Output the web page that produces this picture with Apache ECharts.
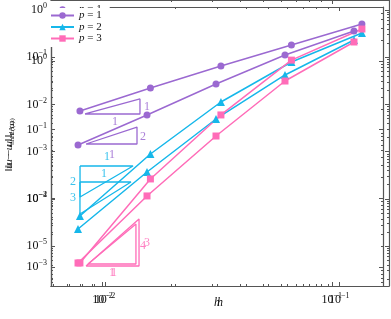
<!DOCTYPE html>
<html><head><meta charset="utf-8">
<script src="https://cdn.jsdelivr.net/npm/echarts@6/dist/echarts.min.js"></script>
<style>html,body{margin:0;padding:0;background:#fff}#c{width:391px;height:319px}</style>
</head><body><div id="c"></div>
<script>
// mesh sizes
const hValues = [0.0078125, 0.015625, 0.03125, 0.0625, 0.125];
// plot drawn underneath (L2 error)
const l2P1 = [0.00138, 0.00596, 0.0271, 0.111, 0.359];
const l2P2 = [2.29e-5, 3.70e-4, 0.00491, 0.0420, 0.231];
const l2P3 = [4.37e-6, 1.15e-4, 0.00214, 0.0313, 0.210];
// plot drawn on top (H1 error)
const h1P1 = [0.187, 0.405, 0.846, 1.71, 3.46];
const h1P2 = [0.00554, 0.0443, 0.253, 0.967, 2.56];
const h1P3 = [0.00115, 0.0192, 0.164, 1.03, 2.92];
const seriesNames = ['p = 1', 'p = 2', 'p = 3'];
// tick labels
const xTicks = [0.01, 0.1];
const yTicksL2 = [1e-5, 1e-4, 1e-3, 1e-2, 1e-1, 1];
const yTicksH1 = [1e-3, 1e-2, 1e-1, 1];
// slope triangles: vertices [h, err]
const triL2 = [
  [[0.008466, 0.001449], [0.01413, 0.00332], [0.01413, 0.001449]],
  [[0.007966, 2.27e-4], [0.01330, 2.27e-4], [0.007966, 4.76e-5]],
  [[0.008636, 4.16e-6], [0.01398, 2.92e-5], [0.01398, 4.16e-6]]
];
const triH1 = [
  [[0.008214, 0.1693], [0.01410, 0.28], [0.01410, 0.1693]],
  [[0.007821, 0.02962], [0.01317, 0.02962], [0.007821, 0.01048]],
  [[0.008296, 0.001038], [0.01397, 0.005013], [0.01397, 0.001038]]
];
const triLabelsL2 = [
  [[0.01501, 0.002038, '2'], [0.01099, 8.47e-4, '1']],
  [[0.007429, 1.04e-4, '3'], [0.01014, 3.35e-4, '1']],
  [[0.01501, 1.0e-5, '4'], [0.01099, 2.68e-6, '1']]
];
const triLabelsH1 = [
  [[0.01511, 0.2140, '1'], [0.01103, 0.1295, '1']],
  [[0.007302, 0.01733, '2'], [0.01020, 0.04005, '1']],
  [[0.01511, 0.002243, '3'], [0.01093, 8.2e-4, '1']]
];

const FONT = 'Liberation Serif';
const AX = '#555';
const colors = ['#9b69d1', '#16b7ea', '#ff6cb8'];
const symbols = ['circle', 'triangle', 'rect'];
const symSizes = [7, 8, 7];

function fmtPow(v) {
  const e = Math.round(Math.log10(v));
  return '{b|10}{s|' + (e < 0 ? '\u2212' : '') + Math.abs(e) + '}';
}
const powRich = {
  b: {fontFamily: FONT, fontSize: 12, color: '#111'},
  s: {fontFamily: FONT, fontSize: 8, color: '#111', padding: [0, 0, 8, 0]}
};
function minorTicks(min, max) {
  const out = [];
  for (let e = Math.floor(Math.log10(min)); e <= Math.ceil(Math.log10(max)); e++) {
    for (let m = 2; m <= 9; m++) {
      const v = m * Math.pow(10, e);
      if (v > min && v < max) out.push(v);
    }
  }
  return out;
}
function makeAxes(dim, gi, min, max, major, nameObj) {
  const lo = dim === 'x' ? 'bottom' : 'left', hi = dim === 'x' ? 'top' : 'right';
  const minor = minorTicks(min, max);
  const base = {type: 'log', logBase: 10, gridIndex: gi, min: min, max: max,
    splitLine: {show: false}, axisPointer: {show: false}};
  const line = {show: true, lineStyle: {color: AX, width: 1.2}};
  return [
    Object.assign({}, base, nameObj, {position: lo, axisLine: line,
      axisTick: {show: true, inside: true, length: 4, customValues: major, lineStyle: {color: AX}},
      axisLabel: {show: true, customValues: major, formatter: fmtPow, rich: powRich, margin: dim === 'x' ? 6 : 4}}),
    Object.assign({}, base, {position: hi, axisLine: line,
      axisTick: {show: true, inside: true, length: 4, customValues: major, lineStyle: {color: AX}},
      axisLabel: {show: false}}),
    Object.assign({}, base, {position: lo, axisLine: {show: false},
      axisTick: {show: true, inside: true, length: 2, customValues: minor, lineStyle: {color: AX}},
      axisLabel: {show: false}}),
    Object.assign({}, base, {position: hi, axisLine: {show: false},
      axisTick: {show: true, inside: true, length: 2, customValues: minor, lineStyle: {color: AX}},
      axisLabel: {show: false}})
  ];
}

const grids = [
  {left: 51, top: 0, width: 338, height: 286, outerBoundsMode: 'none'},
  {left: 51, top: 7, width: 332, height: 279, outerBoundsMode: 'none'}
];
const ranges = [
  {x: [0.005955, 0.1777], y: [1.422e-6, 1.629], yt: yTicksL2, sub: 'L\u00B2(\u03A9)'},
  {x: [0.005879, 0.1538], y: [5.31e-4, 6.11], yt: yTicksH1, sub: 'H\u00B9(\u03A9)'}
];
const xAxis = [], yAxis = [];
ranges.forEach((r, gi) => {
  xAxis.push(...makeAxes('x', gi, r.x[0], r.x[1], xTicks,
    {name: 'h', nameLocation: 'middle', nameGap: 11, nameMoveOverlap: false,
     nameTextStyle: {fontFamily: FONT, fontStyle: 'italic', fontSize: 12, color: '#111', verticalAlign: 'top'}}));
  yAxis.push(...makeAxes('y', gi, r.y[0], r.y[1], r.yt,
    {name: '{n|\u2016u \u2212 u}{s|h}{n|\u2016}{s|' + r.sub + '}', nameLocation: 'middle', nameGap: 34, nameRotate: 90,
     nameTextStyle: {rich: {n: {fontFamily: FONT, fontStyle: 'italic', fontSize: 11, color: '#111'},
                            s: {fontFamily: FONT, fontSize: 7, color: '#111', padding: [6, 0, 0, 0]}}}}));
});

const series = [];
const dataSets = [[l2P1, l2P2, l2P3], [h1P1, h1P2, h1P3]];
const tris = [triL2, triH1];
const triLabels = [triLabelsL2, triLabelsH1];
dataSets.forEach((sets, gi) => {
  sets.forEach((vals, k) => {
    series.push({
      type: 'line', name: seriesNames[k], xAxisIndex: gi * 4, yAxisIndex: gi * 4,
      data: hValues.map((h, i) => [h, vals[i]]),
      symbol: symbols[k], symbolSize: symSizes[k], showSymbol: true,
      lineStyle: {color: colors[k], width: 1.5}, itemStyle: {color: colors[k]},
      animation: false, z: 3
    });
  });
  tris[gi].forEach((tri, k) => {
    series.push({
      type: 'line', name: 'tri' + gi + k, xAxisIndex: gi * 4, yAxisIndex: gi * 4,
      data: tri.concat([tri[0]]), symbol: 'none', silent: true,
      lineStyle: {color: colors[k], width: 1.3}, animation: false, z: 2
    });
  });
  triLabels[gi].forEach((labs, k) => {
    series.push({
      type: 'scatter', name: 'lab' + gi + k, xAxisIndex: gi * 4, yAxisIndex: gi * 4,
      data: labs, symbolSize: 1, itemStyle: {opacity: 0}, silent: true, animation: false,
      label: {show: true, position: 'inside', formatter: p => p.data[2],
        fontFamily: FONT, fontSize: 12, color: colors[k], opacity: 0.85}
    });
  });
});

const legendText = {fontFamily: FONT, fontSize: 11, color: '#111', lineHeight: 11,
  rich: {i: {fontFamily: FONT, fontStyle: 'italic', fontSize: 11, color: '#111', lineHeight: 11},
         n: {fontFamily: FONT, fontSize: 11, color: '#111', lineHeight: 11}}};
const legendFmt = name => '{i|p}{n| = ' + name.slice(4) + '}';
const legendBase = {left: 50, orient: 'vertical', itemWidth: 23, itemHeight: 8, itemGap: 0.5,
   padding: [3, 8, 3, 0], backgroundColor: '#fff', borderWidth: 0,
   data: seriesNames, formatter: legendFmt, textStyle: legendText};
const legends = [
  Object.assign({}, legendBase, {top: 1, z: 4}),
  Object.assign({}, legendBase, {top: 8, padding: [2, 8, 3, 0], z: 5})
];

const chart = echarts.init(document.getElementById('c'), null, {renderer: 'canvas'});
chart.setOption({animation: false, backgroundColor: '#fff', grid: grids, xAxis, yAxis, series, legend: legends});
</script></body></html>
